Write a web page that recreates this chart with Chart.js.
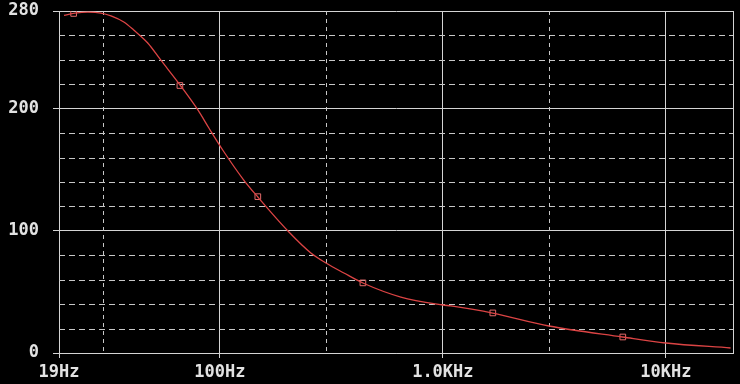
<!DOCTYPE html>
<html>
<head>
<meta charset="utf-8">
<script src="https://cdn.jsdelivr.net/npm/chart.js@4/dist/chart.umd.min.js"></script>
<style>
  html, body { margin: 0; padding: 0; background: #000; }
  #wrap { width: 740px; height: 384px; position: relative; }
</style>
</head>
<body>
<div id="wrap"><canvas id="plot"></canvas></div>
<script>
// curve samples (Hz, value)
const freqHz = [20, 22.4, 25.6, 29.3, 32.5, 37.1, 41.1, 47.5, 54.3, 66.8, 79.7, 89.3, 103, 128, 148, 202, 256, 299, 360, 438, 648, 1000, 1086, 1673, 2990, 6390, 10000, 19500];
const gain = [276.5, 278.2, 279.0, 278.3, 276.0, 271.0, 264.4, 253.8, 239.9, 218.6, 199.0, 184.2, 166.2, 141.6, 127.7, 99.9, 81.9, 73.7, 65.5, 57.3, 45.8, 39.3, 38.5, 32.7, 22.1, 13.1, 8.2, 4.1];

// square markers on the trace
const markerHz = [22.1, 66.2, 148, 438, 1675, 6410];
const markerVal = [278, 219, 128, 57.4, 32.8, 13.1];

// axis ticks
const xTicks = [19, 30, 100, 300, 1000, 3000, 10000, 20000];
const xTickLabels = ["19Hz", "", "100Hz", "", "1.0KHz", "", "10KHz", ""];
const xDashed = [30, 300, 3000];
const yLabeled = [0, 100, 200, 280];

const solid = "#d4d4d4";
const textCol = "#e2e2e2";

const dashedGrid = {
  id: "dashedGrid",
  beforeDatasetsDraw(chart) {
    const { ctx, chartArea: a, scales } = chart;
    ctx.save();
    ctx.strokeStyle = "#c8c8c8";
    ctx.lineWidth = 1;
    ctx.setLineDash([6, 4]);
    scales.y.ticks.forEach((t) => {
      if (yLabeled.includes(t.value)) return;
      const y = Math.round(scales.y.getPixelForValue(t.value)) + 0.5;
      ctx.beginPath();
      ctx.moveTo(a.left, y);
      ctx.lineTo(a.right, y);
      ctx.stroke();
    });
    ctx.setLineDash([4, 4]);
    xDashed.forEach((v) => {
      const x = Math.round(scales.x.getPixelForValue(v)) + 0.5;
      ctx.beginPath();
      ctx.moveTo(x, a.top);
      ctx.lineTo(x, a.bottom);
      ctx.stroke();
    });
    ctx.restore();
  },
};

const font = { family: "'DejaVu Sans Mono', monospace", size: 17, weight: "bold" };

new Chart(document.getElementById("plot"), {
  type: "line",
  data: {
    datasets: [
      {
        data: freqHz.map((f, i) => ({ x: f, y: gain[i] })),
        borderColor: "#dc4444",
        borderWidth: 1.3,
        pointRadius: 0,
        cubicInterpolationMode: "monotone",
        fill: false,
      },
      {
        data: markerHz.map((f, i) => ({ x: f, y: markerVal[i] })),
        showLine: false,
        pointStyle: "rect",
        pointRadius: 4,
        pointBorderColor: "#e06a6a",
        pointBackgroundColor: "rgba(0,0,0,0)",
        pointBorderWidth: 1,
      },
    ],
  },
  options: {
    responsive: true,
    maintainAspectRatio: false,
    animation: false,
    layout: { padding: { top: 11, right: 7, left: 0, bottom: 0 } },
    plugins: { legend: { display: false }, tooltip: { enabled: false } },
    scales: {
      x: {
        type: "logarithmic",
        min: 19,
        max: 20000,
        afterBuildTicks: (s) => { s.ticks = xTicks.map((v) => ({ value: v })); },
        afterFit: (s) => { s.height = 31; s.paddingLeft = 0; s.paddingRight = 0; },
        ticks: {
          autoSkip: false,
          maxRotation: 0,
          color: textCol,
          font: font,
          padding: 4,
          callback: (v, i) => xTickLabels[i],
        },
        grid: {
          color: (c) => (c.tick && [100, 1000, 10000, 20000].includes(c.tick.value) ? solid : "rgba(0,0,0,0)"),
          tickColor: (c) => (c.tick && xTickLabels[c.index] ? solid : "rgba(0,0,0,0)"),
          tickLength: 5,
          lineWidth: 1,
        },
        border: { color: solid, width: 1 },
      },
      y: {
        min: 0,
        max: 280,
        afterFit: (s) => { s.width = 59; s.paddingTop = 0; s.paddingBottom = 0; },
        ticks: {
          stepSize: 20,
          color: textCol,
          font: font,
          padding: 14,
          callback: (v) => (yLabeled.includes(v) ? String(v) : ""),
        },
        grid: {
          color: (c) => (c.tick && yLabeled.includes(c.tick.value) ? solid : "rgba(0,0,0,0)"),
          tickColor: (c) => (c.tick && yLabeled.includes(c.tick.value) ? solid : "rgba(0,0,0,0)"),
          tickLength: 6,
          lineWidth: 1,
        },
        border: { color: solid, width: 1 },
      },
    },
  },
  plugins: [dashedGrid],
});
</script>
</body>
</html>
